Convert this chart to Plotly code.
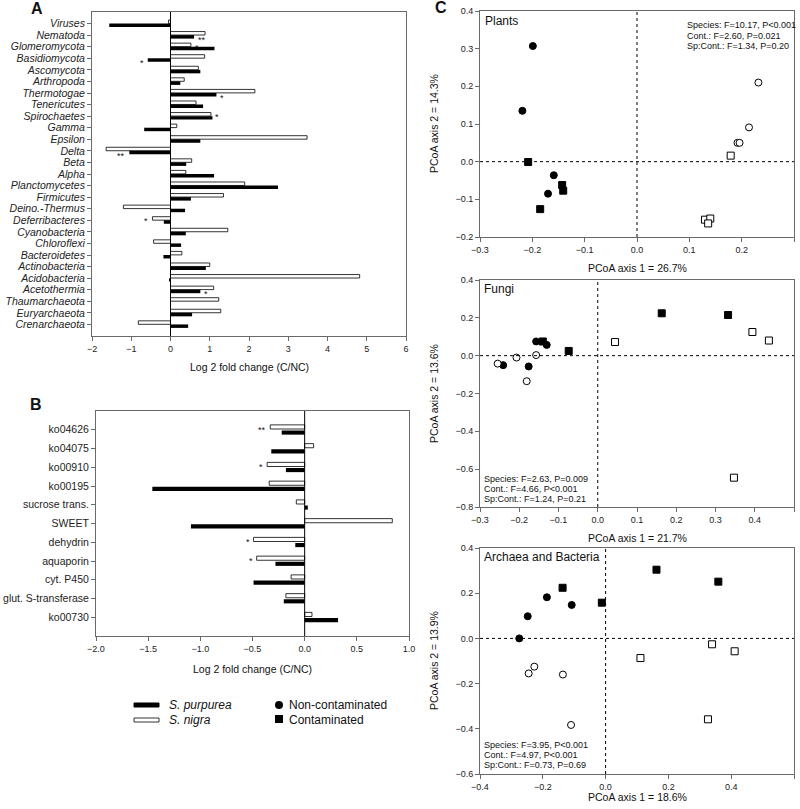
import plotly.graph_objects as go

FONT = "Liberation Sans, Arial, sans-serif"
W, H = 800, 809

# ---------------- Panel A data ----------------
A_categories = ["Viruses", "Nematoda", "Glomeromycota", "Basidiomycota", "Ascomycota",
                "Arthropoda", "Thermotogae", "Tenericutes", "Spirochaetes", "Gamma",
                "Epsilon", "Delta", "Beta", "Alpha", "Planctomycetes", "Firmicutes",
                "Deino.-Thermus", "Deferribacteres", "Cyanobacteria", "Chloroflexi",
                "Bacteroidetes", "Actinobacteria", "Acidobacteria", "Acetothermia",
                "Thaumarchaeota", "Euryarchaeota", "Crenarchaeota"]
A_nigra = [-0.05, 0.88, 0.52, 0.87, 0.71, 0.35, 2.15, 0.65, 1.03, 0.16, 3.48, -1.64, 0.54,
           0.39, 1.89, 1.35, -1.20, -0.46, 1.46, -0.43, 0.29, 1.00, 4.82, 1.10, 1.23, 1.28, -0.82]
A_purpurea = [-1.56, 0.60, 1.12, -0.58, 0.76, 0.25, 1.17, 0.83, 1.07, -0.67, 0.76, -1.05, 0.40,
              1.11, 2.74, 0.52, 0.37, -0.17, 0.39, 0.27, -0.18, 0.90, -0.03, 0.76, 0.0, 0.55, 0.45]
A_signif = [("Nematoda", "purpurea", "**"), ("Glomeromycota", "nigra", "*"),
            ("Basidiomycota", "purpurea", "*"), ("Thermotogae", "purpurea", "*"),
            ("Spirochaetes", "nigra", "*"), ("Delta", "purpurea", "**"),
            ("Deferribacteres", "nigra", "*"), ("Acetothermia", "purpurea", "*")]
A_xticks = [-2, -1, 0, 1, 2, 3, 4, 5, 6]

# ---------------- Panel B data ----------------
B_categories = ["ko04626", "ko04075", "ko00910", "ko00195", "sucrose trans.", "SWEET",
                "dehydrin", "aquaporin", "cyt. P450", "glut. S-transferase", "ko00730"]
B_nigra = [-0.33, 0.086, -0.36, -0.34, -0.08, 0.84, -0.49, -0.46, -0.13, -0.18, 0.07]
B_purpurea = [-0.22, -0.32, -0.18, -1.46, 0.03, -1.09, -0.09, -0.28, -0.49, -0.20, 0.32]
B_signif = [("ko04626", "nigra", "**"), ("ko00910", "nigra", "*"),
            ("dehydrin", "nigra", "*"), ("aquaporin", "nigra", "*")]

# ---------------- Panel C data (PCoA) ----------------
plants_pur_nc_x = [-0.199, -0.219, -0.159, -0.170]
plants_pur_nc_y = [0.307, 0.135, -0.036, -0.085]
plants_pur_c_x = [-0.208, -0.143, -0.141, -0.185]
plants_pur_c_y = [-0.001, -0.062, -0.077, -0.126]
plants_nig_nc_x = [0.232, 0.214, 0.192, 0.196]
plants_nig_nc_y = [0.210, 0.091, 0.050, 0.050]
plants_nig_c_x = [0.179, 0.130, 0.140, 0.136]
plants_nig_c_y = [0.016, -0.154, -0.151, -0.164]

fungi_pur_nc_x = [-0.157, -0.130, -0.241, -0.176]
fungi_pur_nc_y = [0.075, 0.057, -0.050, -0.057]
fungi_pur_c_x = [-0.140, -0.074, 0.163, 0.332]
fungi_pur_c_y = [0.075, 0.025, 0.224, 0.215]
fungi_nig_nc_x = [-0.255, -0.207, -0.157, -0.181]
fungi_nig_nc_y = [-0.042, -0.010, 0.003, -0.135]
fungi_nig_c_x = [0.044, 0.394, 0.436, 0.347]
fungi_nig_c_y = [0.072, 0.125, 0.080, -0.645]

arch_pur_nc_x = [-0.275, -0.248, -0.187, -0.108]
arch_pur_nc_y = [0.000, 0.098, 0.182, 0.148]
arch_pur_c_x = [-0.137, -0.012, 0.162, 0.359]
arch_pur_c_y = [0.224, 0.158, 0.304, 0.251]
arch_nig_nc_x = [-0.245, -0.227, -0.136, -0.110]
arch_nig_nc_y = [-0.155, -0.125, -0.160, -0.383]
arch_nig_c_x = [0.111, 0.339, 0.411, 0.326]
arch_nig_c_y = [-0.087, -0.026, -0.057, -0.358]

plants_stats = ["Species: F=10.17, P<0.001", "Cont.: F=2.60, P=0.021", "Sp:Cont.: F=1.34, P=0.20"]
fungi_stats = ["Species: F=2.63, P=0.009", "Cont.: F=4.66, P<0.001", "Sp:Cont.: F=1.24, P=0.21"]
arch_stats = ["Species: F=3.95, P<0.001", "Cont.: F=4.97, P<0.001", "Sp:Cont.: F=0.73, P=0.69"]


def px(x):
    return x / W


def py(y):
    return 1 - y / H


fig = go.Figure()

AX = dict(showline=True, linecolor="#6a6a6a", linewidth=1, mirror=True, ticks="outside",
          ticklen=4, tickcolor="#6a6a6a", showgrid=False, zeroline=False, automargin=False,
          tickfont=dict(family=FONT, size=9, color="#222"))

# ---------------- Panel A bars ----------------
A_idx = list(range(len(A_categories)))
fig.add_trace(go.Bar(x=A_nigra, y=A_idx, orientation="h", width=0.3, offset=-0.31,
                     marker=dict(color="white", line=dict(color="black", width=0.8)),
                     xaxis="x", yaxis="y", showlegend=False))
fig.add_trace(go.Bar(x=A_purpurea, y=A_idx, orientation="h", width=0.3, offset=0.0,
                     marker=dict(color="black", line=dict(color="black", width=0)),
                     xaxis="x", yaxis="y", showlegend=False))

# ---------------- Panel B bars ----------------
B_idx = list(range(len(B_categories)))
fig.add_trace(go.Bar(x=B_nigra, y=B_idx, orientation="h", width=0.22, offset=-0.26,
                     marker=dict(color="white", line=dict(color="black", width=0.8)),
                     xaxis="x2", yaxis="y2", showlegend=False))
fig.add_trace(go.Bar(x=B_purpurea, y=B_idx, orientation="h", width=0.22, offset=0.04,
                     marker=dict(color="black", line=dict(color="black", width=0)),
                     xaxis="x2", yaxis="y2", showlegend=False))


# ---------------- Panel C scatters ----------------
def add_group(xs, ys, symbol, filled, xa, ya):
    fig.add_trace(go.Scatter(
        x=xs, y=ys, mode="markers", xaxis=xa, yaxis=ya, showlegend=False,
        marker=dict(symbol=symbol, size=7, color="black" if filled else "white",
                    line=dict(color="black", width=1))))


for xa, ya, groups in [
    ("x3", "y3", [(plants_pur_nc_x, plants_pur_nc_y, "circle", True),
                  (plants_pur_c_x, plants_pur_c_y, "square", True),
                  (plants_nig_nc_x, plants_nig_nc_y, "circle", False),
                  (plants_nig_c_x, plants_nig_c_y, "square", False)]),
    ("x4", "y4", [(fungi_pur_nc_x, fungi_pur_nc_y, "circle", True),
                  (fungi_pur_c_x, fungi_pur_c_y, "square", True),
                  (fungi_nig_nc_x, fungi_nig_nc_y, "circle", False),
                  (fungi_nig_c_x, fungi_nig_c_y, "square", False)]),
    ("x5", "y5", [(arch_pur_nc_x, arch_pur_nc_y, "circle", True),
                  (arch_pur_c_x, arch_pur_c_y, "square", True),
                  (arch_nig_nc_x, arch_nig_nc_y, "circle", False),
                  (arch_nig_c_x, arch_nig_c_y, "square", False)])]:
    for gx, gy, sym, filled in groups:
        add_group(gx, gy, sym, filled, xa, ya)

# ---------------- Layout axes ----------------
nA = len(A_categories)
nB = len(B_categories)
layout = dict(
    width=W, height=H, margin=dict(l=0, r=0, t=0, b=0, autoexpand=False),
    paper_bgcolor="white", plot_bgcolor="white", barmode="overlay",
    font=dict(family=FONT, color="#222"),
    xaxis=dict(AX, domain=[px(92), px(406)], range=[-2, 6], tickvals=A_xticks, anchor="y"),
    yaxis=dict(AX, domain=[py(336), py(12)], range=[nA, -1], tickvals=A_idx,
               ticktext=["<i>%s</i>" % c for c in A_categories], anchor="x",
               tickfont=dict(family=FONT, size=10.5, color="#222")),
    xaxis2=dict(AX, domain=[px(96), px(409)], range=[-2, 1], dtick=0.5, tickformat=".1f",
                anchor="y2"),
    yaxis2=dict(AX, domain=[py(636), py(411)], range=[nB, -1], tickvals=B_idx,
                ticktext=B_categories, anchor="x2",
                tickfont=dict(family=FONT, size=10.5, color="#222")),
    xaxis3=dict(AX, domain=[px(480), px(794)], range=[-0.3, 0.3], dtick=0.1, tickformat=".1f",
                anchor="y3"),
    yaxis3=dict(AX, domain=[py(237), py(11)], range=[-0.2, 0.4], dtick=0.1, tickformat=".1f",
                anchor="x3"),
    xaxis4=dict(AX, domain=[px(480), px(794)], range=[-0.3, 0.5], dtick=0.1, tickformat=".1f",
                anchor="y4"),
    yaxis4=dict(AX, domain=[py(507), py(280)], range=[-0.8, 0.4], dtick=0.2, tickformat=".1f",
                anchor="x4"),
    xaxis5=dict(AX, domain=[px(480), px(794)], range=[-0.4, 0.6], dtick=0.2, tickformat=".1f",
                anchor="y5"),
    yaxis5=dict(AX, domain=[py(774), py(548)], range=[-0.6, 0.4], dtick=0.2, tickformat=".1f",
                anchor="x5"),
)
fig.update_layout(**layout)

shapes = []
# zero lines for bar panels
for xr, yr in [("x", "y domain"), ("x2", "y2 domain")]:
    shapes.append(dict(type="line", xref=xr, yref=yr, x0=0, x1=0, y0=0, y1=1,
                       line=dict(color="black", width=1)))
# dotted lines for PCoA
for i in (3, 4, 5):
    shapes.append(dict(type="line", xref="x%d" % i, yref="y%d domain" % i, x0=0, x1=0, y0=0, y1=1,
                       line=dict(color="black", width=1, dash="dot")))
    shapes.append(dict(type="line", xref="x%d domain" % i, yref="y%d" % i, x0=0, x1=1, y0=0, y1=0,
                       line=dict(color="black", width=1, dash="dot")))
# legend keys
shapes.append(dict(type="rect", xref="paper", yref="paper", x0=px(134), x1=px(159),
                   y0=py(707), y1=py(703), fillcolor="black", line=dict(color="black", width=1)))
shapes.append(dict(type="rect", xref="paper", yref="paper", x0=px(134), x1=px(159),
                   y0=py(722), y1=py(718), fillcolor="white", line=dict(color="black", width=0.8)))
shapes.append(dict(type="circle", xref="paper", yref="paper", x0=px(275), x1=px(283),
                   y0=py(709), y1=py(701), fillcolor="black", line=dict(color="black", width=0)))
shapes.append(dict(type="rect", xref="paper", yref="paper", x0=px(275), x1=px(283),
                   y0=py(723), y1=py(715), fillcolor="black", line=dict(color="black", width=0)))
fig.update_layout(shapes=shapes)

ann = []


def txt(x, y, text, size, xanchor="center", yanchor="middle", angle=0, bold=False):
    if bold:
        text = "<b>%s</b>" % text
    ann.append(dict(x=px(x), y=py(y), xref="paper", yref="paper", text=text, showarrow=False,
                    xanchor=xanchor, yanchor=yanchor, textangle=angle,
                    font=dict(family=FONT, size=size, color="#111")))


# significance marks
def signif(cats, nig, pur, marks, xa, ya, off_n, off_p):
    for cat, series, mark in marks:
        i = cats.index(cat)
        if series == "nigra":
            v = nig[i]
            yc = i + off_n
        else:
            v = pur[i]
            yc = i + off_p
        ann.append(dict(x=v, y=yc, xref=xa, yref=ya, text=mark, showarrow=False,
                        xanchor="left" if v >= 0 else "right", yanchor="middle",
                        xshift=2 if v >= 0 else -2, yshift=-3,
                        font=dict(family=FONT, size=9, color="#111")))


signif(A_categories, A_nigra, A_purpurea, A_signif, "x", "y", -0.16, 0.15)
signif(B_categories, B_nigra, B_purpurea, B_signif, "x2", "y2", -0.15, 0.15)

# panel letters
txt(37, 8, "A", 16, bold=True)
txt(36, 404, "B", 16, bold=True)
txt(441, 7, "C", 16, bold=True)

# bar panel axis titles
txt(249, 367, "Log 2 fold change (C/NC)", 10.5)
txt(252, 669, "Log 2 fold change (C/NC)", 10.5)

# legend texts
txt(167, 705, "<i>S. purpurea</i>", 12, xanchor="left")
txt(167, 720, "<i>S. nigra</i>", 12, xanchor="left")
txt(287, 705, "Non-contaminated", 12, xanchor="left")
txt(287, 720, "Contaminated", 12, xanchor="left")

# PCoA titles & axis labels
txt(483, 21, "Plants", 12, xanchor="left")
txt(482, 289, "Fungi", 12, xanchor="left")
txt(482, 557, "Archaea and Bacteria", 12, xanchor="left")

txt(637, 268, "PCoA axis 1 = 26.7%", 10.5)
txt(637, 538, "PCoA axis 1 = 21.7%", 10.5)
txt(637, 797, "PCoA axis 1 = 18.6%", 10.5)
txt(434, 124, "PCoA axis 2 = 14.3%", 10.5, angle=-90)
txt(434, 394, "PCoA axis 2 = 13.6%", 10.5, angle=-90)
txt(434, 661, "PCoA axis 2 = 13.9%", 10.5, angle=-90)

for k, line in enumerate(plants_stats):
    txt(685, 25 + 10.5 * k, line, 9, xanchor="left")
for k, line in enumerate(fungi_stats):
    txt(482, 479 + 9.8 * k, line, 9, xanchor="left")
for k, line in enumerate(arch_stats):
    txt(482, 745 + 10 * k, line, 9, xanchor="left")

fig.update_layout(annotations=ann)
fig.write_html("out.html", config={"displayModeBar": False},
               post_script="document.body.style.margin='0';document.body.style.overflow='hidden';")
